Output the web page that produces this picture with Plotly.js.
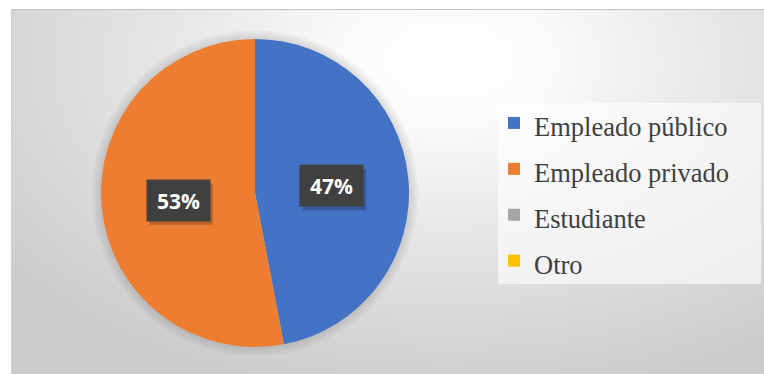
<!DOCTYPE html>
<html>
<head>
<meta charset="utf-8">
<script src="https://cdn.plot.ly/plotly-3.0.1.min.js"></script>
<style>
  html, body { margin: 0; padding: 0; background: #ffffff; }
  #bg { position: absolute; left: 11px; top: 9px; width: 753px; height: 365px;
        border-top: 1px solid #c4c4c4; border-left: 1px solid #cfcfcf;
        background: radial-gradient(ellipse 75% 95% at 58% 14%, #ffffff 0%, #fbfbfb 18%, #e6e6e6 50%, #cbcbcb 100%); }
  #chart { position: absolute; left: 0; top: 0; width: 764px; height: 374px; }
</style>
</head>
<body>
<div id="bg"></div>
<div id="chart"></div>
<script>
const categories = ["Empleado público", "Empleado privado", "Estudiante", "Otro"];
const values = [47, 53, 0, 0];
const colors = ["#4472C4", "#ED7D31", "#A5A5A5", "#FFC000"];

const W = 764, H = 374;
const domX = [100 / W, 410 / W];
const domY = [1 - 347 / H, 1 - 39 / H];
const radiusPx = Math.min((domX[1] - domX[0]) * W, (domY[1] - domY[0]) * H) / 2;
const cx = (domX[0] + domX[1]) / 2, cy = (domY[0] + domY[1]) / 2;

const total = values.reduce((a, b) => a + b, 0);
const annotations = [];
const shapes = [];

// soft halo around the pie
[9, 6, 3].forEach(k => {
  shapes.push({
    type: "circle", xref: "paper", yref: "paper", layer: "below",
    x0: cx - (radiusPx + k) / W, x1: cx + (radiusPx + k) / W,
    y0: cy - (radiusPx + k) / H, y1: cy + (radiusPx + k) / H,
    fillcolor: "rgba(0,0,0,0.035)", line: { width: 0 }
  });
});

// legend box
shapes.push({
  type: "rect", xref: "paper", yref: "paper", layer: "below",
  x0: 498 / W, x1: 761 / W, y0: 1 - 284 / H, y1: 1 - 103 / H,
  fillcolor: "rgba(255,255,255,0.62)", line: { width: 0 }
});

const boxW = 63, boxH = 41;
let cum = 0;
values.forEach((v, i) => {
  const frac = v / total;
  const mid = (cum + frac / 2) * 2 * Math.PI;
  cum += frac;
  if (v <= 0) return;
  const ax = cx + 0.5 * radiusPx * Math.sin(mid) / W;
  const ay = cy + 0.5 * radiusPx * Math.cos(mid) / H;
  const txt = Math.round(frac * 100) + "%";
  // drop shadow behind the label box
  shapes.push({
    type: "rect", xref: "paper", yref: "paper", layer: "above",
    x0: ax + (3 - boxW / 2) / W, x1: ax + (3 + boxW / 2) / W,
    y0: ay - (4 + boxH / 2) / H, y1: ay + (boxH / 2 - 4) / H,
    fillcolor: "rgba(0,0,0,0.22)", line: { width: 0 }
  });
  annotations.push({
    xref: "paper", yref: "paper", x: ax, y: ay, xanchor: "center", yanchor: "middle",
    text: "<b>" + txt + "</b>", showarrow: false, width: boxW - 4, height: boxH - 4, borderpad: 2,
    bgcolor: "#404040", font: { family: "Open Sans", size: 21, color: "#ffffff" }
  });
});

const data = [{
  type: "pie",
  labels: categories.map(c => "<span style='font-size:26.5px'>" + c + "</span>"),
  values: values,
  marker: { colors: colors, line: { width: 0 } },
  sort: false,
  direction: "clockwise",
  rotation: 0,
  textinfo: "none",
  hoverinfo: "label+percent",
  domain: { x: domX, y: domY }
}];

const layout = {
  width: W, height: H,
  margin: { l: 0, r: 0, t: 0, b: 0 },
  paper_bgcolor: "rgba(0,0,0,0)",
  plot_bgcolor: "rgba(0,0,0,0)",
  showlegend: true,
  legend: {
    x: 494 / W, xanchor: "left",
    y: 1 - 95 / H, yanchor: "top",
    bgcolor: "rgba(0,0,0,0)",
    font: { family: "Liberation Serif", size: 33, color: "#404040" },
    traceorder: "normal"
  },
  shapes: shapes,
  annotations: annotations
};

Plotly.newPlot("chart", data, layout, { displayModeBar: false, staticPlot: true });
</script>
</body>
</html>
